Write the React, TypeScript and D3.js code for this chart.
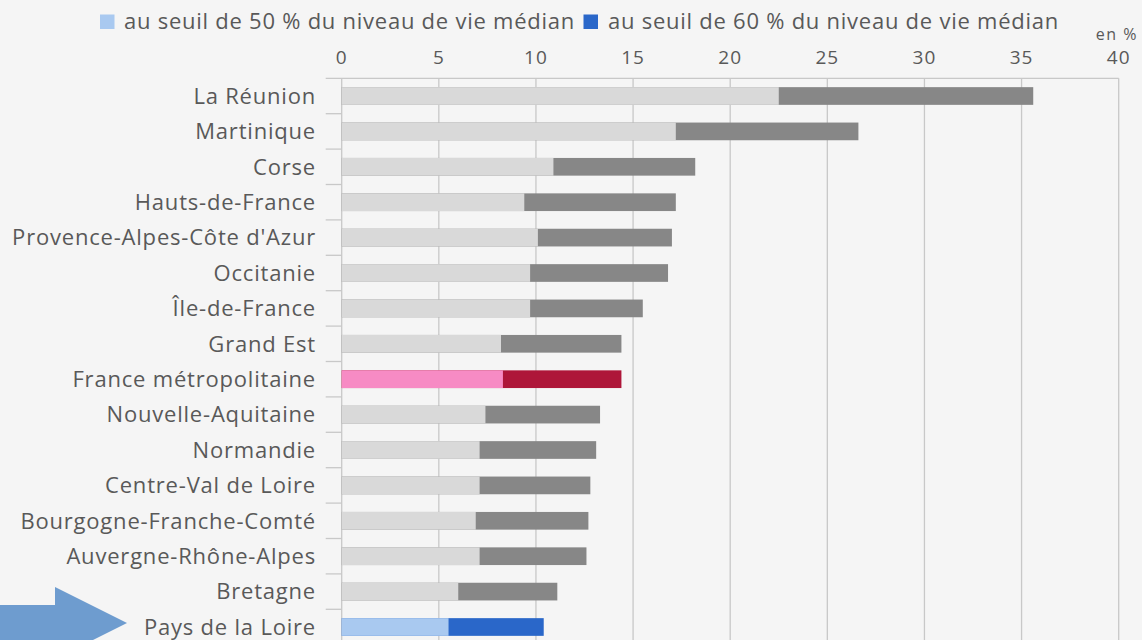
import React from 'react'
import * as d3 from 'd3'

// régions, triées comme dans la source
const regions = [
  'La Réunion', 'Martinique', 'Corse', 'Hauts-de-France', "Provence-Alpes-Côte d'Azur",
  'Occitanie', 'Île-de-France', 'Grand Est', 'France métropolitaine', 'Nouvelle-Aquitaine',
  'Normandie', 'Centre-Val de Loire', 'Bourgogne-Franche-Comté', 'Auvergne-Rhône-Alpes',
  'Bretagne', 'Pays de la Loire',
]
const seuil50 = [22.5, 17.2, 10.9, 9.4, 10.1, 9.7, 9.7, 8.2, 8.3, 7.4, 7.1, 7.1, 6.9, 7.1, 6.0, 5.5]
const seuil60 = [35.6, 26.6, 18.2, 17.2, 17.0, 16.8, 15.5, 14.4, 14.4, 13.3, 13.1, 12.8, 12.7, 12.6, 11.1, 10.4]
const ticks = [0, 5, 10, 15, 20, 25, 30, 35, 40]
const legendLabels = ['au seuil de 50 % du niveau de vie médian', 'au seuil de 60 % du niveau de vie médian']

const W = 1142
const H = 640
const font = '"Open Sans", "Noto Sans", sans-serif'
const textColor = '#595959'

const colorsFor = (name: string) => {
  if (name === 'France métropolitaine') return ['#f78bc4', '#ae1639']
  if (name === 'Pays de la Loire') return ['#a9c9f0', '#2a67c9']
  return ['#d9d9d9', '#878787']
}

const App = () => {
  const top = 78.3
  const x = d3.scaleLinear().domain([0, 40]).range([341.7, 1118.7])
  const y = d3.scaleBand().domain(regions).range([top, top + 35.4 * regions.length]).paddingInner(0.5).paddingOuter(0.25)
  const step = y.step()

  return (
    <svg width={W} height={H} style={{ position: 'absolute', left: 0, top: 0, background: '#f5f5f5' }}>
      {/* legende */}
      <rect x={100} y={14.5} width={14.5} height={14.5} fill="#a9c9f0" />
      <text x={124} y={29} fontSize={22} letterSpacing={0.75} fontFamily={font} fill={textColor}>{legendLabels[0]}</text>
      <rect x={583.5} y={14.5} width={14.5} height={14.5} fill="#2a67c9" />
      <text x={608} y={29} fontSize={22} letterSpacing={0.75} fontFamily={font} fill={textColor}>{legendLabels[1]}</text>
      <text x={1138} y={40} fontSize={16} letterSpacing={1.5} fontFamily={font} fill={textColor} textAnchor="end">en %</text>

      {/* grille */}
      {ticks.map(t => (
        <g key={t}>
          <line x1={x(t)} x2={x(t)} y1={top} y2={H} stroke="#c8c8c8" strokeWidth={1.3} />
          <text x={x(t)} y={64} fontSize={19} letterSpacing={1} fontFamily={font} fill={textColor} textAnchor="middle">{t}</text>
        </g>
      ))}
      <line x1={x(0) - 16} x2={x(40)} y1={top} y2={top} stroke="#c8c8c8" strokeWidth={1.3} />
      {regions.map((r, i) => (
        <line key={'t' + r} x1={x(0) - 16} x2={x(0)} y1={top + step * (i + 1)} y2={top + step * (i + 1)} stroke="#c8c8c8" strokeWidth={1.3} />
      ))}

      {/* barres */}
      {regions.map((r, i) => {
        const [c1, c2] = colorsFor(r)
        const yy = y(r) as number
        return (
          <g key={r}>
            <rect x={x(0)} y={yy} width={x(seuil60[i]) - x(0)} height={y.bandwidth()} fill={c2} />
            <rect x={x(0)} y={yy} width={x(seuil50[i]) - x(0)} height={y.bandwidth()} fill={c1} />
            <text x={316} y={yy + y.bandwidth() / 2} dy="0.35em" fontSize={22} letterSpacing={0.8} fontFamily={font} fill={textColor} textAnchor="end">{r}</text>
          </g>
        )
      })}

      {/* fleche */}
      <path d="M0,605 L55,605 L55,587 L127,623 L55,659 L55,641 L0,641 Z" fill="#6e9ccf" />
    </svg>
  )
}

export default App
